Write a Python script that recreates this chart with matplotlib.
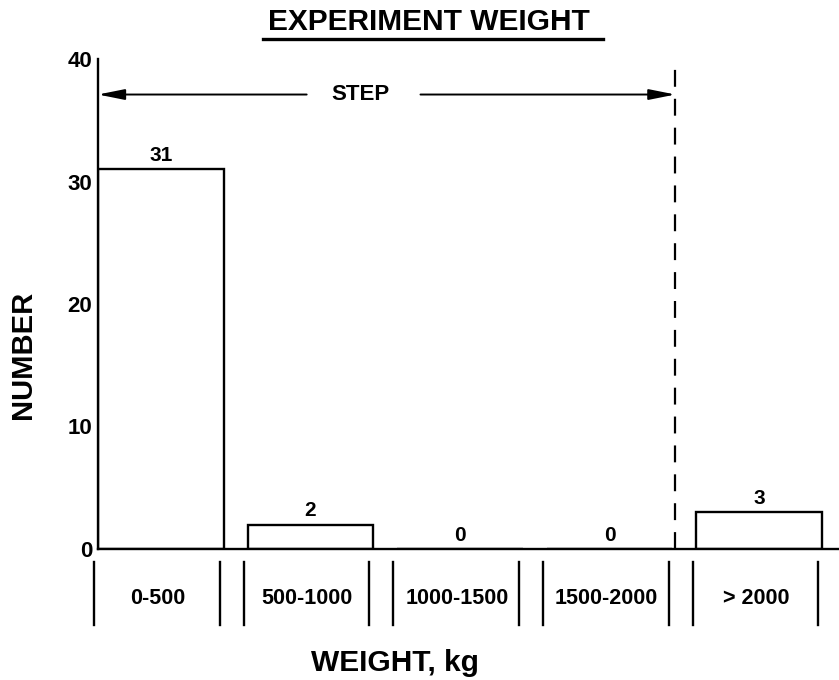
import matplotlib
matplotlib.use("Agg")
import matplotlib.pyplot as plt
from matplotlib.lines import Line2D
import matplotlib.transforms as mtransforms

plt.rcParams['font.family'] = ['Liberation Sans', 'DejaVu Sans']
plt.rcParams['font.weight'] = 'bold'

categories = ["0-500", "500-1000", "1000-1500", "1500-2000", "> 2000"]
counts = [31, 2, 0, 0, 3]
yticks = [0, 10, 20, 30, 40]

W, H = 839, 680
fig = plt.figure(figsize=(W / 100, H / 100), dpi=100)
ax = fig.add_axes([98 / W, 1 - 549 / H, 1 - 98 / W, (549 - 59) / H])

x = list(range(len(categories)))
bw = 0.84
ax.bar(x, counts, width=bw, facecolor='white', edgecolor='black', linewidth=1.7, zorder=2)
for xi, c in zip(x, counts):
    ax.annotate(str(c), (xi, c), xytext=(0, 3), textcoords='offset points',
                ha='center', va='bottom', fontsize=15, fontweight='bold')

ax.set_xlim(-0.42, 4.534)
ax.set_ylim(0, 40)
ax.set_yticks(yticks)
ax.set_yticklabels([str(t) for t in yticks], fontsize=16, fontweight='bold')
ax.tick_params(axis='y', length=0, pad=4)
ax.set_xticks([])
for s in ['top', 'right']:
    ax.spines[s].set_visible(False)
ax.spines['left'].set_linewidth(1.7)
ax.spines['bottom'].set_linewidth(1.7)

# dashed separator
xd = 3.44
ax.plot([xd, xd], [0, 39.3], color='black', lw=1.6, ls=(0, (7.6, 5.4)), zorder=3,
        clip_on=False)

# STEP arrows
ystep = 37.1
astyle = '-|>,head_length=1.6,head_width=0.32'
ax.annotate('', xy=(-0.42, ystep), xytext=(0.975, ystep),
            arrowprops=dict(arrowstyle=astyle, color='black', lw=1.4, mutation_scale=10,
                            shrinkA=0, shrinkB=0), annotation_clip=False)
ax.annotate('', xy=(xd, ystep), xytext=(1.736, ystep),
            arrowprops=dict(arrowstyle=astyle, color='black', lw=1.4, mutation_scale=10,
                            shrinkA=0, shrinkB=0), annotation_clip=False)
ax.text(1.336, ystep, 'STEP', ha='center', va='center', fontsize=16, fontweight='bold')

# category boxes below axis
trans = mtransforms.blended_transform_factory(ax.transData, ax.transAxes)
for xi, lab in zip(x, categories):
    for e in (xi - bw / 2 - 0.025, xi + bw / 2 - 0.025):
        ax.add_line(Line2D([e, e], [-0.027, -0.155], transform=trans, color='black',
                           lw=1.7, clip_on=False))
    ax.text(xi - 0.02, -0.1, lab, transform=trans, ha='center', va='center',
            fontsize=15.5, fontweight='bold')

# titles
fig.text(429 / W, 1 - 22 / H, 'EXPERIMENT WEIGHT', ha='center', va='center',
         fontsize=21.5, fontweight='bold')
fig.add_artist(Line2D([263 / W, 603 / W], [1 - 39 / H, 1 - 39 / H], color='black', lw=2.4))
fig.text(395 / W, 1 - 663 / H, 'WEIGHT, kg', ha='center', va='center',
         fontsize=21.5, fontweight='bold')
fig.text(23 / W, 1 - 355 / H, 'NUMBER', ha='center', va='center', rotation=90,
         fontsize=21, fontweight='bold')

fig.savefig('out.png', dpi=100, facecolor='white')
